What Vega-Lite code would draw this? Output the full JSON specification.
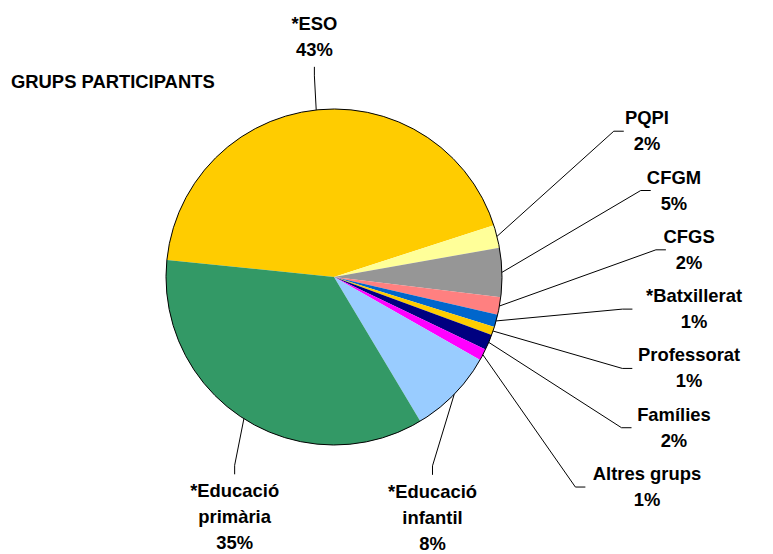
{
  "$schema": "https://vega.github.io/schema/vega-lite/v6.json",
  "width": 668,
  "height": 554,
  "autosize": "none",
  "padding": {"left": 0, "right": 105, "top": 0, "bottom": 0},
  "background": "#ffffff",
  "config": {"view": {"stroke": null}},
  "title": {
    "text": "GRUPS PARTICIPANTS",
    "anchor": "start",
    "frame": "group",
    "orient": "top",
    "offset": 0,
    "dx": 11,
    "dy": 106,
    "baseline": "alphabetic",
    "font": "Liberation Sans",
    "fontSize": 18.4,
    "fontWeight": "bold",
    "color": "#000000"
  },
  "data": {
    "values": [
      {"o": 1, "group": "*ESO", "value": 43.4, "label": "*ESO\n43%"},
      {"o": 2, "group": "PQPI", "value": 2.2, "label": "PQPI\n2%"},
      {"o": 3, "group": "CFGM", "value": 4.7, "label": "CFGM\n5%"},
      {"o": 4, "group": "CFGS", "value": 1.7, "label": "CFGS\n2%"},
      {"o": 5, "group": "*Batxillerat", "value": 1.2, "label": "*Batxillerat\n1%"},
      {"o": 6, "group": "Professorat", "value": 0.8, "label": "Professorat\n1%"},
      {"o": 7, "group": "Famílies", "value": 1.5, "label": "Famílies\n2%"},
      {"o": 8, "group": "Altres grups", "value": 1.1, "label": "Altres grups\n1%"},
      {"o": 9, "group": "*Educació infantil", "value": 8.2, "label": "*Educació\ninfantil\n8%"},
      {"o": 10, "group": "*Educació primària", "value": 35.2, "label": "*Educació\nprimària\n35%"}
    ]
  },
  "layer": [
    {
      "mark": {"type": "arc", "outerRadius": 168, "strokeWidth": 0},
      "encoding": {
        "theta": {"field": "value", "type": "quantitative", "stack": true, "scale": {"range": [4.81363, 11.09682]}},
        "order": {"field": "o", "type": "quantitative"},
        "color": {
          "field": "group",
          "type": "nominal",
          "legend": null,
          "scale": {
            "domain": ["*ESO", "PQPI", "CFGM", "CFGS", "*Batxillerat", "Professorat", "Famílies", "Altres grups", "*Educació infantil", "*Educació primària"],
            "range": ["#FFCC00", "#FFFF99", "#969696", "#FF8080", "#0066CC", "#FFCC00", "#000080", "#FF00FF", "#99CCFF", "#339966"]
          }
        }
      }
    },
    {
      "transform": [{"aggregate": [{"op": "sum", "field": "value", "as": "tot"}]}],
      "mark": {"type": "arc", "outerRadius": 168, "filled": false, "stroke": "#000000", "strokeWidth": 1},
      "encoding": {
        "theta": {"field": "tot", "type": "quantitative", "stack": true}
      }
    },
    {
      "transform": [
        {"joinaggregate": [{"op": "sum", "field": "value", "as": "total"}]},
        {"window": [{"op": "sum", "field": "value", "as": "cum"}], "sort": [{"field": "o", "order": "ascending"}], "frame": [null, 0]},
        {"calculate": "4.81363 + 2*PI*(datum.cum - datum.value/2)/datum.total", "as": "mid"},
        {"calculate": "sin(datum.mid)", "as": "ex"},
        {"calculate": "cos(datum.mid)", "as": "ey"},
        {"calculate": "datum.value < 5", "as": "small"},
        {"joinaggregate": [{"op": "mean", "field": "ey", "as": "meanEy"}, {"op": "count", "as": "n"}], "groupby": ["small"]},
        {"window": [{"op": "row_number", "as": "k"}], "groupby": ["small"], "sort": [{"field": "o", "order": "ascending"}]},
        {"calculate": "split(datum.label, '\\n')", "as": "lines"},
        {"calculate": "length(datum.lines)", "as": "nl"},
        {"calculate": "(4.8*length(datum.lines[0]) + 1)/168", "as": "hw"},
        {"calculate": "datum.nl*13/168", "as": "h2"},
        {"calculate": "datum.meanEy - 0.353*(datum.k - (datum.n + 1)/2)", "as": "sy"},
        {"calculate": "sqrt(max(0, 4.5924 - (datum.sy - datum.meanEy)*(datum.sy - datum.meanEy)))", "as": "sx"},
        {"calculate": "datum.small ? atan2(datum.sx, datum.sy) : datum.mid % (2*PI)", "as": "la"},
        {"window": [{"op": "lag", "field": "la", "as": "prevLa"}], "sort": [{"field": "o", "order": "ascending"}]},
        {"calculate": "(datum.small || datum.prevLa == null) ? datum.la : max(datum.la, datum.prevLa + 0.4189)", "as": "th"},
        {"calculate": "cos(datum.th) >= 0 ? 1 : -1", "as": "sg"},
        {"calculate": "datum.small ? datum.sx : 1.1024*sin(datum.th)", "as": "lx"},
        {"calculate": "datum.small ? datum.sy : 1.1024*cos(datum.th) + datum.sg*datum.nl*28/168", "as": "ly"},
        {"calculate": "datum.ly + (datum.nl - 1)*13/168", "as": "ty"},
        {"calculate": "datum.small ? datum.lx - datum.hw - 3/168 : datum.lx", "as": "endx"},
        {"calculate": "datum.small ? datum.ly : datum.ly - datum.sg*(datum.h2 + 4/168)", "as": "endy"},
        {"calculate": "datum.small ? datum.endx - 10/168 : datum.lx", "as": "elbx"},
        {"calculate": "datum.small ? datum.ly : datum.endy - datum.sg*9/168", "as": "elby"}
      ],
      "layer": [
        {
          "mark": {"type": "rule", "color": "#000000", "strokeWidth": 1},
          "encoding": {
            "x": {"field": "ex", "type": "quantitative", "axis": null, "scale": {"domain": [-1.9881, 1.9881], "nice": false, "zero": false}},
            "y": {"field": "ey", "type": "quantitative", "axis": null, "scale": {"domain": [-1.64881, 1.64881], "nice": false, "zero": false}},
            "x2": {"field": "elbx"},
            "y2": {"field": "elby"}
          }
        },
        {
          "mark": {"type": "rule", "color": "#000000", "strokeWidth": 1},
          "encoding": {
            "x": {"field": "elbx", "type": "quantitative", "axis": null, "scale": {"domain": [-1.9881, 1.9881], "nice": false, "zero": false}},
            "y": {"field": "elby", "type": "quantitative", "axis": null, "scale": {"domain": [-1.64881, 1.64881], "nice": false, "zero": false}},
            "x2": {"field": "endx"},
            "y2": {"field": "endy"}
          }
        },
        {
          "mark": {"type": "text", "lineBreak": "\n", "align": "center", "baseline": "middle", "font": "Liberation Sans", "fontWeight": "bold", "fontSize": 18.4, "lineHeight": 26, "color": "#000000"},
          "encoding": {
            "x": {"field": "lx", "type": "quantitative", "axis": null, "scale": {"domain": [-1.9881, 1.9881], "nice": false, "zero": false}},
            "y": {"field": "ty", "type": "quantitative", "axis": null, "scale": {"domain": [-1.64881, 1.64881], "nice": false, "zero": false}},
            "text": {"field": "label", "type": "nominal"}
          }
        }
      ]
    }
  ]
}
